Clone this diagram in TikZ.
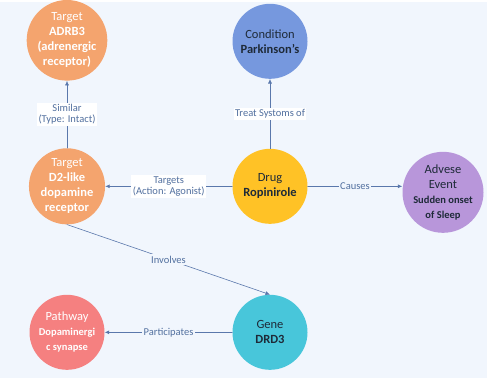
\documentclass[tikz,border=0pt]{standalone}
\usepackage{fontspec}
\setmainfont{Carlito}
\usetikzlibrary{arrows.meta}
\definecolor{kgbg}{HTML}{F1F6FD}
\definecolor{kgline}{HTML}{5A78AC}
\definecolor{kgtext}{HTML}{52709F}
\definecolor{kgdark}{HTML}{1E2A38}
\definecolor{kgorange}{HTML}{F4A46E}
\definecolor{kgblue}{HTML}{7698DE}
\definecolor{kgyellow}{HTML}{FFC226}
\definecolor{kgpurple}{HTML}{B896DA}
\definecolor{kgred}{HTML}{F58080}
\definecolor{kgcyan}{HTML}{48C6DA}
\tikzset{
  kg/entity/.style={circle, minimum size=75pt, inner sep=0pt, align=center, text=kgdark,
    font=\fontsize{12.5}{15}\selectfont},
  kg/light/.style={kg/entity, text=white},
  kg/edge/.style={draw=kgline, line width=0.6pt, -{Latex[length=4.5pt,width=4pt]}},
  kg/label/.style={font=\fontsize{10.5}{11.5}\selectfont, text=kgtext, fill=white, inner sep=1.5pt, align=center},
  kg/tag/.style={kg/label, fill=kgbg}
}
\newcommand{\kgsmall}[1]{{\fontsize{10.5}{12.5}\selectfont\bfseries #1}}

\begin{document}
\begin{tikzpicture}[x=1pt,y=-1pt, line cap=round, line join=round]
% Canvas
\fill[kgbg] (0,0) rectangle (487,376);

% Entities
\node[kg/light, fill=kgorange] (adrb3) at (67,38)
  {Target\\\textbf{ADRB3}\\\textbf{(adrenergic}\\\textbf{receptor)}};
\node[kg/entity, fill=kgblue] (parkinson) at (270,39)
  {Condition\\\textbf{Parkinson's}};
\node[kg/light, fill=kgorange] (d2) at (67,184)
  {Target\\\textbf{D2-like}\\\textbf{dopamine}\\\textbf{receptor}};
\node[kg/entity, fill=kgyellow] (drug) at (270,184)
  {Drug\\\textbf{Ropinirole}};
\node[kg/entity, fill=kgpurple] (adverse) at (443,190)
  {Advese\\Event\\\kgsmall{Sudden onset}\\\kgsmall{of Sleep}};
\node[kg/light, fill=kgred] (pathway) at (67,330)
  {Pathway\\\kgsmall{Dopaminergi}\\\kgsmall{c synapse}};
\node[kg/entity, fill=kgcyan] (gene) at (270,330)
  {Gene\\\textbf{DRD3}};

% Relations
\draw[kg/edge] (d2) -- node[kg/label] {Similar\\(Type: Intact)} (adrb3);
\draw[kg/edge] (drug) -- node[kg/label] {Treat Systoms of} (parkinson);
\draw[kg/edge] (drug) -- node[kg/label] {Targets\\(Action: Agonist)} (d2);
\draw[kg/edge] (drug.east) -- node[kg/tag] {Causes} (drug.east -| adverse.west);
\draw[kg/edge] (d2.south) -- node[kg/tag] {Involves} (gene.north);
\draw[kg/edge] (gene) -- node[kg/tag] {Participates} (pathway);
\end{tikzpicture}
\end{document}
